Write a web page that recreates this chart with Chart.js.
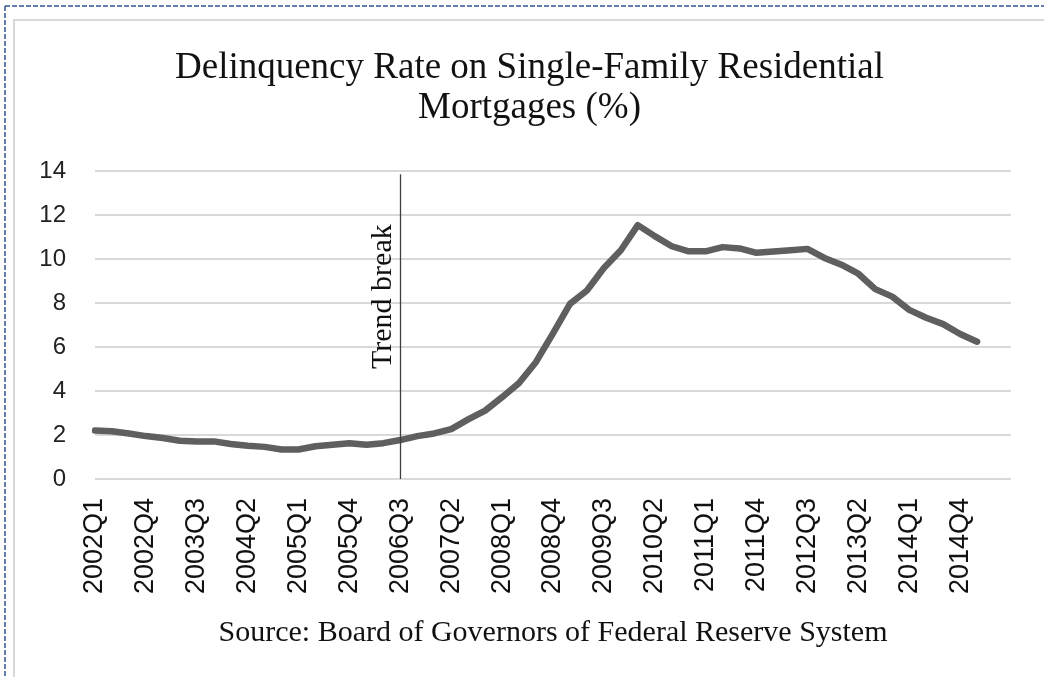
<!DOCTYPE html>
<html>
<head>
<meta charset="utf-8">
<script src="https://cdn.jsdelivr.net/npm/chart.js@4.4.1/dist/chart.umd.min.js"></script>
<style>
  html, body { margin: 0; padding: 0; background: #fff; }
  body { width: 1044px; height: 677px; position: relative; overflow: hidden; }
  #outline { position: absolute; left: 0; top: 0; }
  #frame {
    position: absolute; left: 13px; top: 19px; width: 1031px; height: 658px;
    border-left: 2px solid #d9d9d9; border-top: 2px solid #d9d9d9;
    box-sizing: border-box;
  }
  #wrap { position: absolute; left: 15px; top: 21px; width: 1029px; height: 656px; }
</style>
</head>
<body>
<svg id="outline" width="1044" height="677">
  <line x1="5" y1="6" x2="1044" y2="6" stroke="#2f5597" stroke-width="1.5" stroke-dasharray="5,2"/>
  <line x1="5" y1="6" x2="5" y2="677" stroke="#2f5597" stroke-width="1.5" stroke-dasharray="5,2"/>
</svg>
<div id="frame"></div>
<div id="wrap"><canvas id="delinquencyChart"></canvas></div>
<script>
// Quarters shown on the category axis (the last two have no data yet)
const quarters = [
  '2002Q1', '2002Q2', '2002Q3', '2002Q4', '2003Q1', '2003Q2', '2003Q3', '2003Q4',
  '2004Q1', '2004Q2', '2004Q3', '2004Q4', '2005Q1', '2005Q2', '2005Q3', '2005Q4',
  '2006Q1', '2006Q2', '2006Q3', '2006Q4', '2007Q1', '2007Q2', '2007Q3', '2007Q4',
  '2008Q1', '2008Q2', '2008Q3', '2008Q4', '2009Q1', '2009Q2', '2009Q3', '2009Q4',
  '2010Q1', '2010Q2', '2010Q3', '2010Q4', '2011Q1', '2011Q2', '2011Q3', '2011Q4',
  '2012Q1', '2012Q2', '2012Q3', '2012Q4', '2013Q1', '2013Q2', '2013Q3', '2013Q4',
  '2014Q1', '2014Q2', '2014Q3', '2014Q4', '2015Q1', '2015Q2', '2015Q3'
];

// Delinquency rate (%)
const delinquencyRate = [
  2.20, 2.17, 2.07, 1.95, 1.86, 1.74, 1.70, 1.71,
  1.59, 1.51, 1.46, 1.34, 1.34, 1.49, 1.56, 1.62,
  1.56, 1.63, 1.77, 1.95, 2.07, 2.27, 2.71, 3.11,
  3.72, 4.36, 5.32, 6.62, 7.96, 8.57, 9.59, 10.40,
  11.54, 11.04, 10.58, 10.35, 10.35, 10.54, 10.48, 10.28,
  10.34, 10.40, 10.46, 10.05, 9.74, 9.33, 8.63, 8.29,
  7.69, 7.33, 7.04, 6.59, 6.24, null, null
];

const yTicks = [0, 2, 4, 6, 8, 10, 12, 14];
const labelEvery = 3;
const trendBreak = { index: 18, text: 'Trend break', top: 13.85, textStart: 5.0 };

const serif = "'Liberation Serif', 'Times New Roman', serif";
const sans = "'Liberation Sans', Arial, sans-serif";

// Draws the vertical "Trend break" marker
const trendBreakPlugin = {
    id: 'trendBreak',
    afterDatasetsDraw(chart) {
        const { ctx, chartArea, scales: { x, y } } = chart;
        const px = Math.round(x.getPixelForValue(trendBreak.index)) + 0.5;
        ctx.save();
        ctx.strokeStyle = '#404040';
        ctx.lineWidth = 1.3;
        ctx.beginPath();
        ctx.moveTo(px, y.getPixelForValue(trendBreak.top));
        ctx.lineTo(px, chartArea.bottom);
        ctx.stroke();

        ctx.translate(px - 10, y.getPixelForValue(trendBreak.textStart));
        ctx.rotate(-Math.PI / 2);
        ctx.fillStyle = '#111';
        ctx.font = '30px ' + serif;
        ctx.textAlign = 'left';
        ctx.textBaseline = 'alphabetic';
        ctx.fillText(trendBreak.text, 0, 0);
        ctx.restore();
    }
};

new Chart(document.getElementById('delinquencyChart'), {
    type: 'line',
    data: {
        labels: quarters,
        datasets: [{
            data: delinquencyRate,
            borderColor: '#5f5f5f',
            borderWidth: 6.5,
            borderJoinStyle: 'round',
            borderCapStyle: 'round',
            tension: 0,
            pointRadius: 0,
            fill: false
        }]
    },
    options: {
        responsive: true,
        maintainAspectRatio: false,
        devicePixelRatio: 1,
        animation: false,
        layout: {
            padding: 0
        },
        plugins: {
            legend: { display: false },
            tooltip: { enabled: false },
            title: {
                display: true,
                text: ['Delinquency Rate on Single-Family Residential', 'Mortgages (%)'],
                color: '#111',
                font: { family: serif, size: 37, weight: 'normal', lineHeight: 40 / 37 },
                padding: { top: 27, bottom: 43 }
            }
        },
        scales: {
            x: {
                type: 'category',
                offset: false,
                grid: { display: false, drawTicks: false },
                border: { display: false },
                afterFit: function(scale) {
                    // fixed axis depth and empty space right of the plot
                    scale.height = 198;
                    scale.paddingLeft = 0;
                    scale.paddingRight = 33;
                },
                ticks: {
                    autoSkip: false,
                    minRotation: 90,
                    maxRotation: 90,
                    padding: 19,
                    color: '#111',
                    font: { family: sans, size: 27 },
                    callback: function(value, index) {
                        if (index % labelEvery === 0 && index < quarters.length - 1) {
                            return quarters[index];
                        }
                        return '';
                    }
                },
                title: {
                    display: true,
                    text: 'Source: Board of Governors of Federal Reserve System',
                    color: '#111',
                    font: { family: serif, size: 30, lineHeight: 1.2 },
                    padding: { top: 0, bottom: 26 }
                }
            },
            y: {
                min: 0,
                max: 14,
                afterFit: function(scale) {
                    scale.width = 80;
                },
                afterBuildTicks: function(scale) {
                    scale.ticks = yTicks.map(v => ({ value: v }));
                },
                grid: {
                    color: '#d9d9d9',
                    lineWidth: 2,
                    drawTicks: false
                },
                border: { display: false },
                ticks: {
                    padding: 29,
                    color: '#222',
                    font: { family: sans, size: 24 }
                }
            }
        }
    },
    plugins: [trendBreakPlugin]
});
</script>
</body>
</html>
